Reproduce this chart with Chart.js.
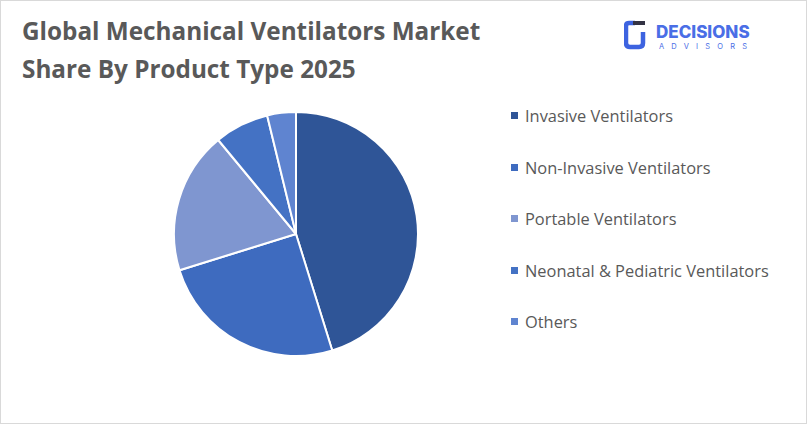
<!DOCTYPE html>
<html><head><meta charset="utf-8">
<script src="https://cdn.jsdelivr.net/npm/chart.js@4"></script>
<style>
body{margin:0;width:807px;height:424px;background:#fff;font-family:"Open Sans",sans-serif;}
#frame{position:absolute;left:0;top:0;width:805px;height:422px;border:1px solid #d9d9d9;}
#title{position:absolute;left:22px;top:12px;font-family:"Open Sans",sans-serif;font-weight:700;font-size:24.3px;line-height:38px;color:#595959;}
#wrap{position:absolute;left:173px;top:111px;width:246px;height:246px;}
#legend{position:absolute;left:511px;top:104px;font-family:"Open Sans",sans-serif;font-size:16.4px;color:#595959;}
.li{height:51.5px;display:flex;align-items:flex-start;}
.sw{width:7px;height:7px;margin-right:7px;margin-top:8px;}
#logo{position:absolute;left:624px;top:19px;}
</style></head><body>
<div id="frame"></div>
<div id="title">Global Mechanical Ventilators Market<br>Share By Product Type 2025</div>
<div id="logo">
<svg width="140" height="32" viewBox="0 0 140 32">
<path d="M11 4 H5 Q2 4 2 7 V24 Q2 28 6 28 H15 Q19 28 19 24 V13" fill="none" stroke="#3d63e0" stroke-width="4.5"/>
<rect x="9" y="2" width="12" height="4" fill="#334"/>
<text x="32" y="19" font-family="Inter,sans-serif" font-weight="800" font-size="17" fill="#4a6ee6">DECISIONS</text>
<text x="35" y="30" font-family="Inter,sans-serif" font-size="7.5" letter-spacing="7.2" fill="#4a6ee6">ADVISORS</text>
</svg></div>
<div id="wrap"><canvas id="c"></canvas></div>
<div id="legend"></div>
<script>
const categories=["Invasive Ventilators","Non-Invasive Ventilators","Portable Ventilators","Neonatal & Pediatric Ventilators","Others"];
const shares=[45.2,25,18.8,7.2,3.8];
const colors=["#2f5597","#3e6bbf","#7f96d0","#4472c4","#5f84d0"];
new Chart(document.getElementById('c'),{type:'pie',
data:{labels:categories,datasets:[{data:shares,backgroundColor:colors,borderColor:'#fff',borderWidth:2}]},
options:{responsive:true,maintainAspectRatio:false,animation:false,layout:{padding:0},
plugins:{legend:{display:false},tooltip:{enabled:false}}}});
const lg=document.getElementById('legend');
categories.forEach((n,i)=>{const d=document.createElement('div');d.className='li';
d.innerHTML='<span class="sw" style="background:'+colors[i]+'"></span><span>'+n.replace('&','&amp;')+'</span>';lg.appendChild(d);});
</script></body></html>
